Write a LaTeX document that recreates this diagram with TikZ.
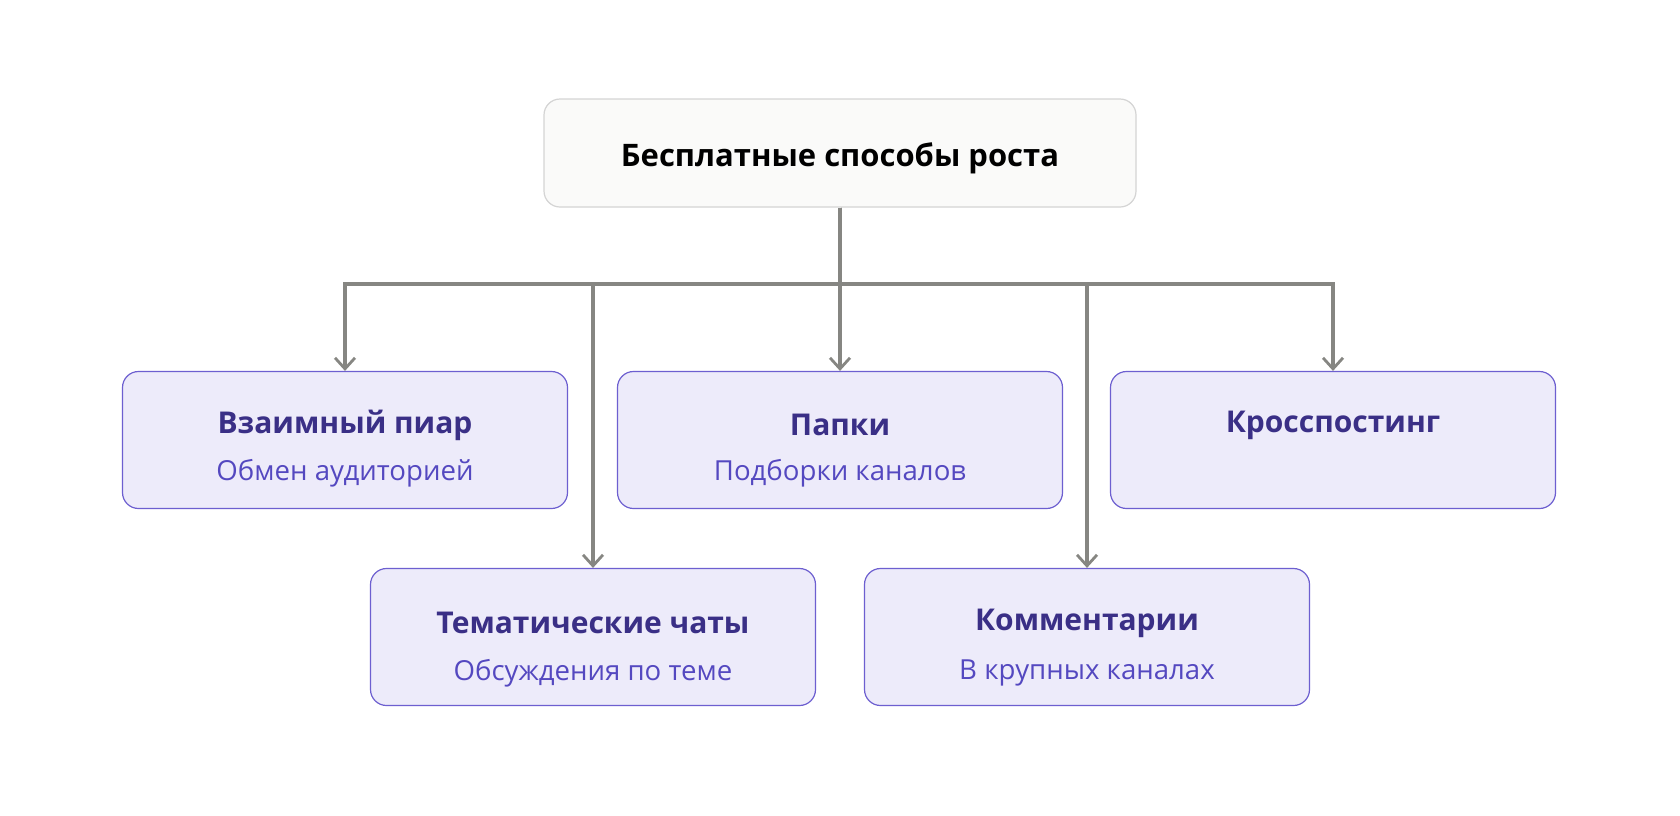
\documentclass[tikz,border=0pt]{standalone}
\usepackage{fontspec}
\setmainfont{Open Sans}
\usepackage{xcolor}
\usetikzlibrary{arrows.meta, positioning}
\definecolor{rootfill}{HTML}{FAFAF9}
\definecolor{rootline}{HTML}{D4D4D4}
\definecolor{boxfill}{HTML}{EDEBFA}
\definecolor{boxline}{HTML}{6D5FD0}
\definecolor{ttlcol}{HTML}{3A2F86}
\definecolor{subcol}{HTML}{5448C0}
\definecolor{linkcol}{HTML}{868682}

\begin{document}
\begin{tikzpicture}[x=0.5pt, y=-0.5pt]
		\tikzset{root/.style = {shape=rectangle, draw=rootline, fill=rootfill, line width=0.6pt, rounded corners=8pt, minimum width=296pt, minimum height=54pt}}
		\tikzset{box/.style = {shape=rectangle, draw=boxline, fill=boxfill, line width=0.6pt, rounded corners=8pt, minimum width=222.5pt, minimum height=68.5pt}}
		\tikzset{ttl/.style = {text=ttlcol, font=\fontsize{15}{18}\selectfont\bfseries, inner sep=0pt}}
		\tikzset{sub/.style = {text=subcol, font=\fontsize{13.8}{17}\selectfont, inner sep=0pt}}
		\tikzset{link/.style = {draw=linkcol, line width=1.6pt, -{Straight Barb[length=5.5pt, width=10pt, line width=1.4pt]}}}

		\fill[white] (0,0) rectangle (1680,815);

		\node[root] (R) at (840,153) {};
		\node[font=\fontsize{15.5}{19}\selectfont\bfseries, inner sep=0pt] (Rt) at (840,158) {Бесплатные способы роста};

		\node[box] (P) at (345,440) {};
		\node[box] (F) at (840,440) {};
		\node[box] (K) at (1333,440) {};
		\node[box] (T) at (593,637) {};
		\node[box] (C) at (1087,637) {};

		\node[ttl] (Pt) at ([yshift=7.5pt]P.center) {Взаимный пиар};
		\node[sub] (Ps) at ([yshift=-16.5pt]P.center) {Обмен аудиторией};
		\node[ttl] (Ft) at ([yshift=7.5pt]F.center) {Папки};
		\node[sub] (Fs) at ([yshift=-16.5pt]F.center) {Подборки каналов};
		\node[ttl] (Kt) at ([yshift=7.5pt]K.center) {Кросспостинг};
		\node[ttl] (Tt) at ([yshift=7pt]T.center) {Тематические чаты};
		\node[sub] (Ts) at ([yshift=-18pt]T.center) {Обсуждения по теме};
		\node[ttl] (Ct) at ([yshift=7pt]C.center) {Комментарии};
		\node[sub] (Cs) at ([yshift=-18pt]C.center) {В крупных каналах};

		\coordinate (bus) at (840,284);

		\draw[link] (R.south) -- (bus) -| (P.north);
		\draw[link] (R.south) -- (bus) -| (T.north);
		\draw[link] (R.south) -- (F.north);
		\draw[link] (R.south) -- (bus) -| (C.north);
		\draw[link] (R.south) -- (bus) -| (K.north);

	\end{tikzpicture}
\end{document}
